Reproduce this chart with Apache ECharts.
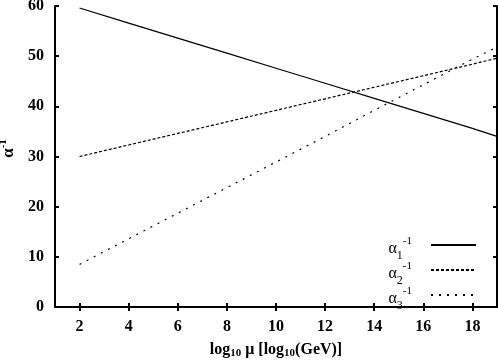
<!DOCTYPE html>
<html><head><meta charset="utf-8">
<script src="https://cdn.jsdelivr.net/npm/echarts@6/dist/echarts.min.js"></script>
<style>html,body{margin:0;padding:0;background:#fff}#c{width:498px;height:360px}</style>
</head><body><div id="c"></div>
<script>
var xVals = [2, 4, 6, 8, 10, 12, 14, 16, 18, 19];
var alpha1 = [59.6, 56.6, 53.6, 50.6, 47.6, 44.6, 41.6, 38.6, 35.6, 34.0];
var alpha2 = [30.0, 32.3, 34.6, 36.9, 39.2, 41.5, 43.8, 46.1, 48.4, 49.6];
var alpha3 = [8.5, 13.6, 18.7, 23.8, 28.9, 34.0, 39.2, 44.3, 49.4, 51.8];
var xTicks = [2, 4, 6, 8, 10, 12, 14, 16, 18];
var yTicks = [0, 10, 20, 30, 40, 50, 60];
var names = ['a1', 'a2', 'a3'];

function pairs(v){ return xVals.map(function(x,i){return [x, v[i]];}); }
var font = '"Liberation Serif", "DejaVu Serif", serif';
var axisLine = {show:true, lineStyle:{color:'#000', width:2}};
var tick = {show:true, inside:true, length:4, lineStyle:{color:'#000', width:2}};
var labelStyle = {fontFamily:font, fontWeight:'bold', fontSize:16, color:'#000'};
var richLeg = {
  a:{fontFamily:font, fontSize:16, color:'#000', lineHeight:16, padding:[12,0,4,0]},
  sub:{fontFamily:font, fontSize:12, color:'#000', lineHeight:10, padding:[22,0,0,0]},
  sup:{fontFamily:font, fontSize:11, color:'#000', lineHeight:10, padding:[7,14,15,0]}
};
var chart = echarts.init(document.getElementById('c'));
chart.setOption({
  animation:false,
  backgroundColor:'#fff',
  grid:{left:55, right:1, top:6, bottom:53, outerBoundsMode:'none', containLabel:false},
  xAxis:[{
    type:'value', min:1, max:19, position:'bottom',
    axisLine:axisLine,
    axisTick:Object.assign({customValues:xTicks}, tick),
    axisLabel:Object.assign({customValues:xTicks, margin:12}, labelStyle),
    splitLine:{show:false},
    name:'{t|log}{s|10}{t| μ [log}{s|10}{t|(GeV)]}',
    nameLocation:'middle', nameGap:33,
    nameTextStyle:{rich:{
      t:{fontFamily:font, fontWeight:'bold', fontSize:16, color:'#000'},
      s:{fontFamily:font, fontWeight:'bold', fontSize:11, color:'#000', padding:[8,0,0,0]}
    }}
  },{
    type:'value', min:1, max:19, position:'top',
    axisLine:axisLine,
    axisTick:Object.assign({customValues:xTicks}, tick),
    axisLabel:{show:false}, splitLine:{show:false}
  }],
  yAxis:[{
    type:'value', min:0, max:60, position:'left',
    axisLine:axisLine,
    axisTick:Object.assign({customValues:yTicks}, tick),
    axisLabel:Object.assign({customValues:yTicks, margin:11}, labelStyle),
    splitLine:{show:false},
    name:'{t|α}{s|-1}', nameLocation:'middle', nameGap:27, nameRotate:90,
    nameTextStyle:{padding:[0,0,0,16], rich:{
      t:{fontFamily:font, fontWeight:'bold', fontSize:17, color:'#000'},
      s:{fontFamily:font, fontWeight:'bold', fontSize:11, color:'#000', padding:[0,0,10,0]}
    }}
  },{
    type:'value', min:0, max:60, position:'right',
    axisLine:axisLine,
    axisTick:Object.assign({customValues:yTicks}, tick),
    axisLabel:{show:false}, splitLine:{show:false}
  }],
  legend:{
    data:names, orient:'vertical', right:21, top:228, align:'right',
    itemWidth:45, itemHeight:10, itemGap:-9, padding:0,
    itemStyle:{opacity:0},
    formatter:function(n){
      var k = n.slice(1);
      return '{a|α}{sub|' + k + '}{sup|-1}';
    },
    textStyle:{rich:richLeg}
  },
  series:[
    {name:'a1', type:'line', data:pairs(alpha1), symbol:'none', lineStyle:{color:'#000', width:1.2, type:'solid'}, itemStyle:{color:'#000'}},
    {name:'a2', type:'line', data:pairs(alpha2), symbol:'none', lineStyle:{color:'#000', width:1.2, type:[3,2]}, itemStyle:{color:'#000'}},
    {name:'a3', type:'line', data:pairs(alpha3), symbol:'none', lineStyle:{color:'#000', width:1.2, type:[2,6]}, itemStyle:{color:'#000'}}
  ]
});
</script></body></html>
